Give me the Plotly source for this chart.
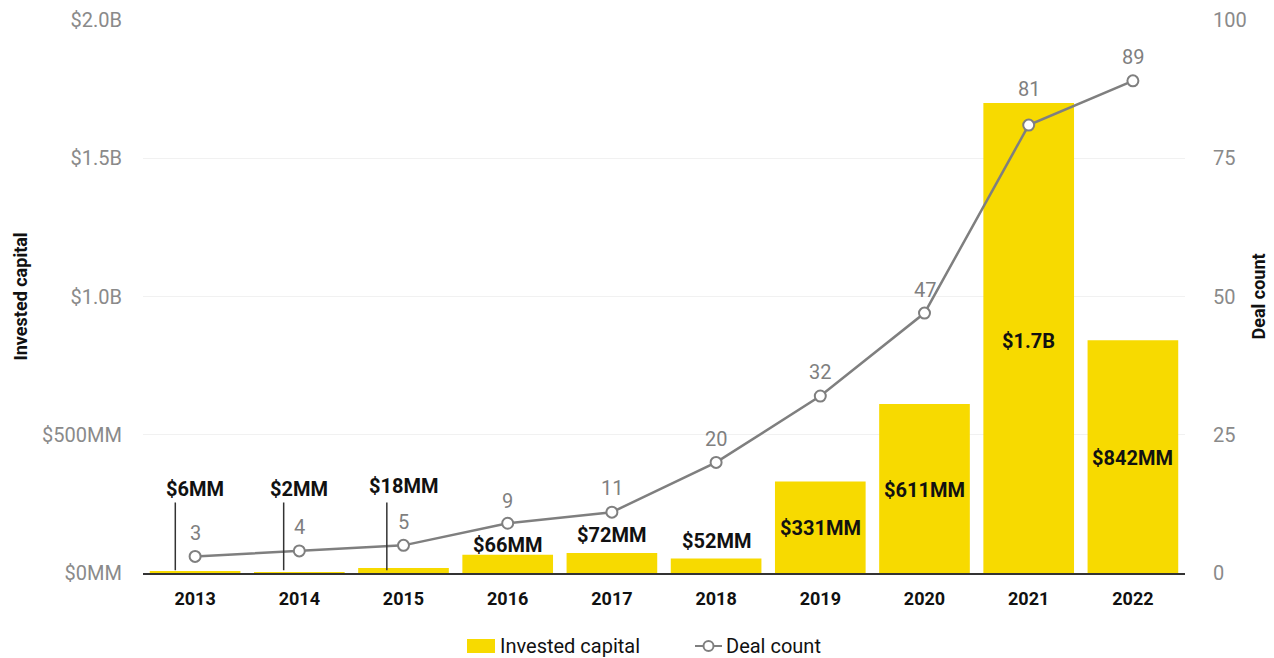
import plotly.graph_objects as go

# Yearly venture data
years = ["2013", "2014", "2015", "2016", "2017", "2018", "2019", "2020", "2021", "2022"]
invested_mm = [6, 2, 18, 66, 72, 52, 331, 611, 1700, 842]
invested_labels = ["$6MM", "$2MM", "$18MM", "$66MM", "$72MM", "$52MM",
                   "$331MM", "$611MM", "$1.7B", "$842MM"]
deal_count = [3, 4, 5, 9, 11, 20, 32, 47, 81, 89]

# Where each bar label sits (in $MM on the left axis)
label_pos_mm = [304, 304, 315, 101, 137, 116, 163, 300, 840, 416]
# Small bars get a leader line from the baseline up to the label
leader = [True, True, True, False, False, False, False, False, False, False]
leader_dx = [-0.19, -0.15, -0.16, 0, 0, 0, 0, 0, 0, 0]
# Extra lift for deal-count labels (pixels)
count_shift = [23, 24, 23, 22, 24, 23, 24, 23, 36, 24]

x = list(range(len(years)))
FONT = "Roboto, Arial, sans-serif"
YELLOW = "#F7DA00"
GREY = "#7F7F7F"

# Plot-area geometry in pixels (used to place the legend and titles)
W, H = 1274, 658
L, R, T, B = 143, 89, 20, 85
PW, PH = W - L - R, H - T - B


def px_x(p):
    return (p - L) / PW


def px_y(p):
    return (H - B - p) / PH


fig = go.Figure()
fig.add_trace(go.Bar(
    x=x, y=invested_mm, name="Invested capital",
    marker=dict(color=YELLOW, line=dict(width=0)),
    width=0.87, yaxis="y", showlegend=False,
))
fig.add_trace(go.Scatter(
    x=x, y=deal_count, name="Deal count", yaxis="y2",
    mode="lines+markers", showlegend=False,
    line=dict(color=GREY, width=2.5),
    marker=dict(symbol="circle", size=11, color="white",
                line=dict(color=GREY, width=2)),
))

annotations = []
shapes = []
for i in x:
    annotations.append(dict(
        x=i, y=label_pos_mm[i], xref="x", yref="y",
        text="<b>" + invested_labels[i] + "</b>", showarrow=False,
        font=dict(family=FONT, size=20, color="#111111"),
        xanchor="center", yanchor="middle",
    ))
    annotations.append(dict(
        x=i, y=deal_count[i], xref="x", yref="y2",
        text=str(deal_count[i]), showarrow=False, yshift=count_shift[i],
        font=dict(family=FONT, size=20, color=GREY),
        xanchor="center", yanchor="middle",
    ))
    if leader[i]:
        shapes.append(dict(
            type="line", xref="x", yref="y",
            x0=i + leader_dx[i], x1=i + leader_dx[i], y0=10, y1=255,
            line=dict(color="#333333", width=1.5),
        ))

# Axis titles
annotations.append(dict(
    x=px_x(20), y=0.5, xref="paper", yref="paper",
    xanchor="center", yanchor="middle",
    text="<b>Invested capital</b>", textangle=-90, showarrow=False,
    font=dict(family=FONT, size=18, color="#111111"),
))
annotations.append(dict(
    x=px_x(1258), y=0.5, xref="paper", yref="paper",
    xanchor="center", yanchor="middle",
    text="<b>Deal count</b>", textangle=-90, showarrow=False,
    font=dict(family=FONT, size=18, color="#111111"),
))

# Legend: yellow swatch + line-with-marker key
LEG_Y = 646
shapes.append(dict(
    type="rect", xref="paper", yref="paper",
    x0=px_x(467), x1=px_x(495), y0=px_y(LEG_Y + 7), y1=px_y(LEG_Y - 7),
    fillcolor=YELLOW, line=dict(width=0),
))
annotations.append(dict(
    x=px_x(498), y=px_y(LEG_Y), xref="paper", yref="paper",
    xanchor="left", yanchor="middle", text="Invested capital", showarrow=False,
    font=dict(family=FONT, size=20, color="#111111"),
))
shapes.append(dict(
    type="line", xref="paper", yref="paper",
    x0=px_x(695), x1=px_x(722), y0=px_y(LEG_Y), y1=px_y(LEG_Y),
    line=dict(color=GREY, width=2),
))
shapes.append(dict(
    type="circle", xref="paper", yref="paper",
    x0=px_x(703.5), x1=px_x(713.5), y0=px_y(LEG_Y + 5), y1=px_y(LEG_Y - 5),
    fillcolor="white", line=dict(color=GREY, width=2),
))
annotations.append(dict(
    x=px_x(724), y=px_y(LEG_Y), xref="paper", yref="paper",
    xanchor="left", yanchor="middle", text="Deal count", showarrow=False,
    font=dict(family=FONT, size=20, color="#111111"),
))

fig.update_layout(
    width=W, height=H,
    margin=dict(l=L, r=R, t=T, b=B, autoexpand=False),
    paper_bgcolor="white", plot_bgcolor="white",
    font=dict(family=FONT, color="#111111"),
    barmode="overlay", showlegend=False,
    xaxis=dict(
        tickvals=x, ticktext=["<b>" + y + "</b>" for y in years],
        range=[-0.5, 9.5], showgrid=False, zeroline=False, automargin=False,
        showline=True, linecolor="#333333", linewidth=2,
        ticks="", ticklabelstandoff=8,
        tickfont=dict(family=FONT, size=18, color="#111111"),
    ),
    yaxis=dict(
        range=[0, 2000], automargin=False,
        tickvals=[0, 500, 1000, 1500, 2000],
        ticktext=["$0MM", "$500MM", "$1.0B", "$1.5B", "$2.0B"],
        showgrid=True, gridcolor="#F1F1F1", gridwidth=1,
        zeroline=False, ticks="", ticklabelstandoff=20,
        tickfont=dict(family=FONT, size=20, color="#8A8A8A"),
    ),
    yaxis2=dict(
        range=[0, 100], overlaying="y", side="right", automargin=False,
        tickvals=[0, 25, 50, 75, 100],
        showgrid=False, zeroline=False, ticks="", ticklabelstandoff=27,
        tickfont=dict(family=FONT, size=20, color="#8A8A8A"),
    ),
    annotations=annotations,
    shapes=shapes,
)

fig.write_html("out.html")
